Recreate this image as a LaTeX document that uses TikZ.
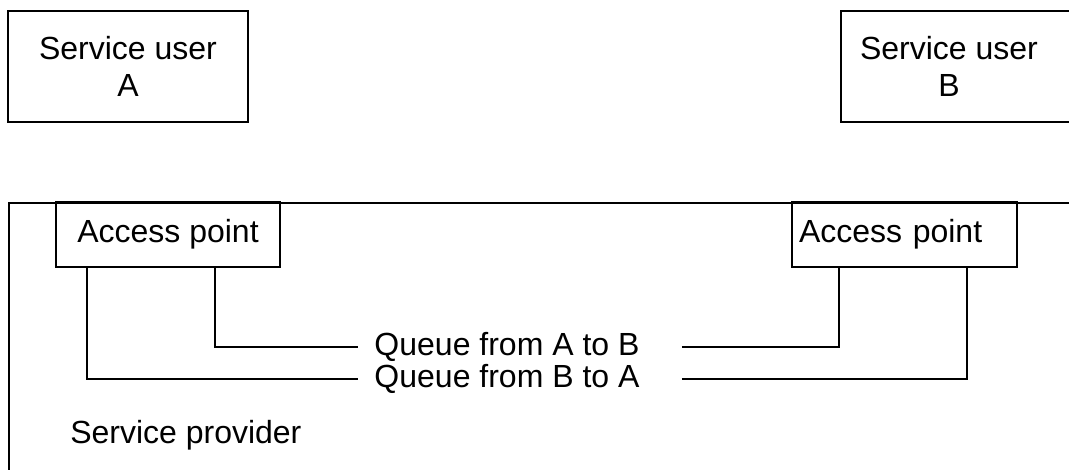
\documentclass[tikz,border=0pt]{standalone}
\usepackage{fontspec}
\setmainfont{Liberation Sans}
\usetikzlibrary{calc}

\begin{document}
\begin{tikzpicture}[x=0.75pt,y=0.75pt,yscale=-1,xscale=1,
        txt/.style={font=\fontsize{24}{27.75}\selectfont,inner sep=0pt},
        box/.style={draw,line width=1.5pt,txt,align=center},
        link/.style={line width=1.5pt}]
        \useasboundingbox (0,0) rectangle (1069,469);
        \clip (0,0) rectangle (1069,469);
        % Provider frame
        \node [box,anchor=north west,minimum width=819pt,minimum height=225pt] (provider) at (8,202) {};
        % Text Node
        \node [box,minimum width=180pt,minimum height=83.25pt] (userA) at (128,66.5) {Service user\\A};
        % Text Node
        \node [box,anchor=west,minimum width=180pt,minimum height=83.25pt] (userB) at (840,66.5) {};
        \node [txt,align=center] (userBtext) at (949,66.5) {Service user\\B};
        % Access points
        \node [box,minimum width=168pt,minimum height=48.75pt] (apA) at (168,234.5) {Access point};
        \node [box,align=left,text width=158.25pt,minimum width=168.75pt,minimum height=48.75pt] (apB) at (904.5,234.5) {Access point};
        \coordinate (legA1) at ($(apA.south west)+(32,0)$);
        \coordinate (legA2) at ($(apA.south west)+(160,0)$);
        \coordinate (legB1) at ($(apB.south west)+(48,0)$);
        \coordinate (legB2) at ($(apB.south west)+(176,0)$);
        % Text Node
        \node [txt,inner xsep=12pt] (qAB) at (507,347) {Queue from A to B};
        % Text Node
        \node [txt,inner xsep=12pt] (qBA) at (507,379) {Queue from B to A};
        % Text Node
        \node [txt,anchor=west] (provtext) at (70,435) {Service provider};
        % Connection
        \draw [link] (legA2) |- (qAB.west);
        % Connection
        \draw [link] ([xshift=19.5pt]qAB.east) -| (legB1);
        % Connection
        \draw [link] (legA1) |- (qBA.west);
        % Connection
        \draw [link] ([xshift=19.5pt]qBA.east) -| (legB2);
    \end{tikzpicture}
\end{document}
